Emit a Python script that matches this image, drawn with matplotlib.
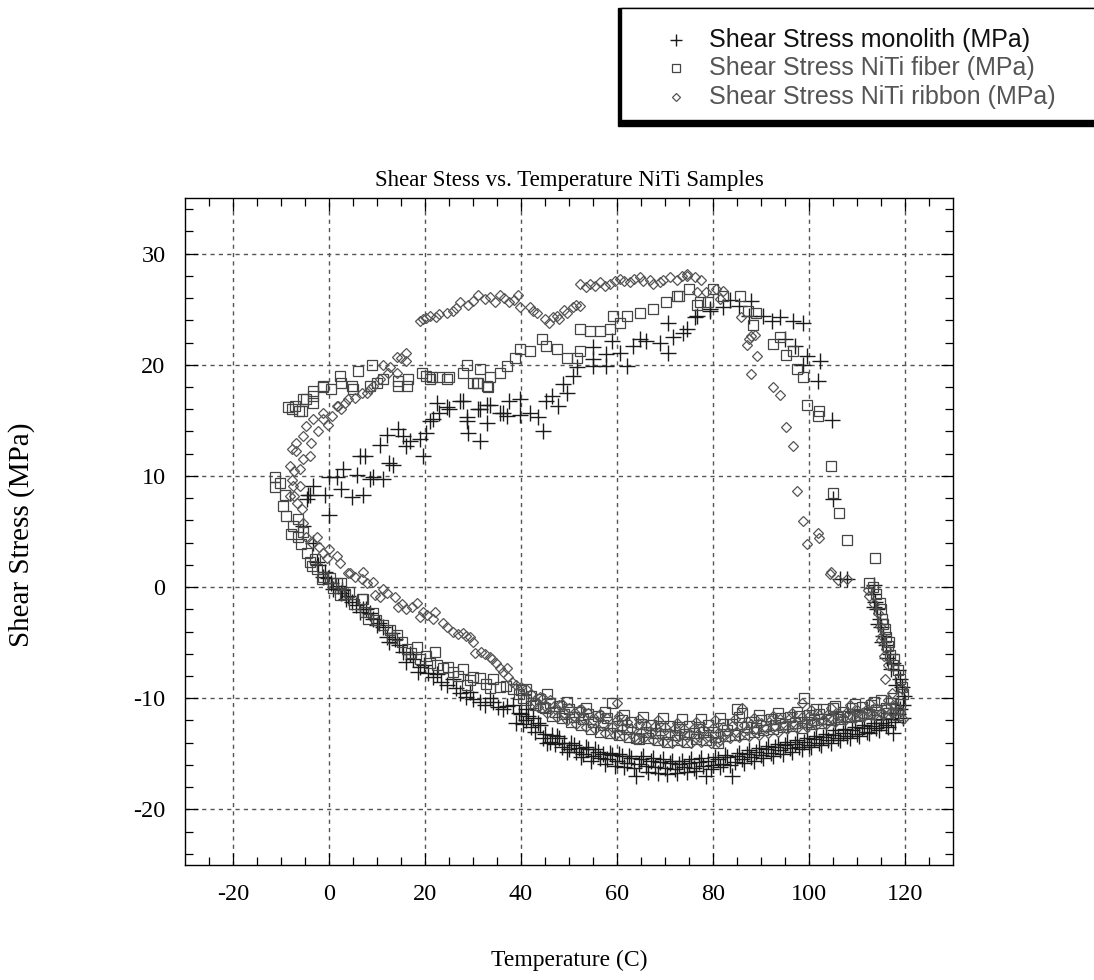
import numpy as np
import matplotlib
matplotlib.use("Agg")
import matplotlib.pyplot as plt
from matplotlib.lines import Line2D
from matplotlib.patches import Rectangle

plt.rcParams["font.family"] = ["Liberation Serif", "DejaVu Serif"]
plt.rcParams["axes.unicode_minus"] = False

# ---- data: (temperature C, shear stress MPa) ----
# monolith, cooling branch on the lower left
mono_low_left = [(-2.6, 2.3), (-2.3, 2.0), (-1.3, 0.9), (-0.9, 1.4), (-0.2, 0.8), (0.4, 0.4),
                 (0.8, -0.2), (1.8, 0.1), (2.6, -0.5), (2.8, -0.3), (3.6, -1.1), (3.9, -0.8),
                 (4.8, -1.3), (5.6, -1.6), (6.4, -2.2), (7.0, -2.0), (7.8, -2.0), (8.5, -2.3),
                 (9.2, -2.9), (9.9, -3.4), (10.5, -3.2), (11.2, -3.6), (12.0, -4.5), (12.6, -4.9),
                 (13.2, -4.1), (13.7, -4.7), (14.5, -5.2), (15.4, -5.8), (16.1, -6.7), (16.8, -6.0),
                 (17.5, -6.5), (18.5, -7.6), (18.9, -7.2), (19.8, -7.0), (20.6, -7.7), (21.7, -8.1),
                 (22.5, -7.8), (23.4, -8.5), (24.5, -8.8), (25.8, -8.3), (26.4, -9.1), (27.2, -9.5),
                 (28.6, -9.9), (29.3, -9.4), (30.0, -10.1), (31.4, -10.3), (32.4, -10.6), (33.5, -10.0),
                 (34.1, -10.3), (35.2, -10.8), (36.2, -11.0), (37.1, -10.7), (38.3, -10.6), (39.0, -12.2),
                 (39.6, -11.3), (41.1, -11.0)]
# monolith, bottom band (two rows)
mono_bottom = [(40.0, -11.4), (41.0, -12.0), (42.0, -12.6), (42.5, -11.8), (43.0, -13.0), (44.0, -12.4),
               (44.5, -13.6), (45.0, -13.2), (46.0, -13.9), (46.5, -13.3), (47.0, -14.1), (48.0, -13.6),
               (48.5, -14.4), (49.0, -14.0), (50.0, -14.6), (51.0, -14.2), (51.5, -14.8), (52.0, -14.5),
               (53.0, -15.0), (54.0, -14.6), (55.0, -15.2), (56.0, -14.8), (56.5, -15.4), (57.0, -15.0),
               (58.0, -15.5), (59.0, -15.1), (60.0, -15.6), (61.0, -15.2), (62.0, -15.8), (63.0, -15.4),
               (64.0, -17.0), (64.5, -15.9), (65.0, -15.5), (66.0, -16.1), (67.0, -15.6), (68.0, -16.2),
               (69.0, -15.7), (70.0, -16.3), (71.0, -15.8), (72.0, -16.4), (73.0, -15.9), (74.0, -16.2),
               (75.0, -15.8), (76.0, -16.3), (77.0, -15.7), (78.0, -16.1), (78.5, -17.0), (79.0, -15.6),
               (80.0, -16.0), (81.0, -15.5), (82.0, -15.9), (83.0, -15.3), (84.0, -17.0), (84.5, -15.7),
               (85.0, -15.2), (86.0, -15.5), (87.0, -15.0), (88.0, -15.3), (89.0, -14.8), (90.0, -15.1),
               (91.0, -14.6), (92.0, -14.9), (93.0, -14.4), (94.0, -14.7), (95.0, -14.2), (96.0, -14.5),
               (97.0, -14.1), (98.0, -14.4), (99.0, -13.9), (100.0, -14.2), (101.0, -13.7), (102.0, -14.0),
               (103.0, -13.5), (104.0, -13.8), (105.0, -13.3), (106.0, -13.6), (107.0, -13.1), (108.0, -13.4),
               (109.0, -12.9), (110.0, -13.2), (111.0, -12.7), (112.0, -13.0), (113.0, -12.5), (114.0, -12.7),
               (115.0, -12.2), (116.0, -12.4), (117.0, -11.9), (117.5, -13.1), (118.0, -12.1), (118.5, -11.4),
               (119.0, -11.0), (119.5, -10.6), (119.5, -11.8)]
mono_bottom_2 = [(40.5, -12.3), (41.5, -11.6), (43.5, -12.2), (45.5, -14.0), (47.5, -13.4), (49.5, -14.8),
                 (50.5, -14.0), (52.5, -15.3), (53.5, -14.4), (54.5, -15.6), (55.5, -14.6), (57.5, -15.9),
                 (58.5, -14.9), (59.5, -16.1), (60.5, -15.0), (61.5, -16.2), (62.5, -15.2), (63.5, -16.3),
                 (65.5, -15.2), (66.5, -16.6), (67.5, -15.4), (68.5, -16.7), (69.5, -15.5), (70.5, -16.8),
                 (71.5, -15.6), (72.5, -16.7), (73.5, -15.6), (74.5, -16.6), (75.5, -15.5), (76.5, -16.5),
                 (77.5, -15.4), (79.5, -16.4), (80.5, -15.3), (81.5, -16.2), (82.5, -15.1), (83.5, -16.0),
                 (85.5, -14.9), (86.5, -15.8), (87.5, -14.7), (88.5, -15.6), (89.5, -14.5), (90.5, -15.4),
                 (91.5, -14.3), (92.5, -15.2), (93.5, -14.1), (94.5, -15.0), (95.5, -13.9), (96.5, -14.8),
                 (97.5, -13.8), (98.5, -14.6), (99.5, -13.6), (100.5, -14.4), (101.5, -13.4), (102.5, -14.2),
                 (103.5, -13.2), (104.5, -14.0), (105.5, -12.9), (106.5, -13.8), (107.5, -12.8), (108.5, -13.6),
                 (109.5, -12.6), (110.5, -13.4), (111.5, -12.4), (112.5, -13.1), (113.5, -12.2), (114.5, -12.9),
                 (115.5, -11.9), (116.5, -12.6), (117.0, -11.3), (118.0, -10.9)]
# monolith, right side and top right
mono_right = [(119.8, -9.8), (119.3, -9.0), (119.0, -8.3), (118.5, -7.5), (117.5, -6.8), (116.8, -6.0),
              (116.0, -5.2), (115.5, -4.4), (115.0, -3.6), (114.7, -2.9), (114.2, -2.0), (113.8, -1.3),
              (113.3, -0.6), (113.5, 0.2), (118.2, -8.8), (117.0, -7.4), (116.3, -6.4), (115.2, -4.9),
              (114.4, -3.3), (113.6, -1.8), (108.0, 0.7), (106.4, 0.7), (105.0, 7.9), (104.7, 15.0),
              (101.8, 18.5), (102.2, 20.3), (99.5, 20.8), (98.7, 20.0), (97.0, 21.7), (95.0, 22.3),
              (96.6, 23.9), (98.7, 23.8), (93.9, 24.3), (92.2, 23.9), (90.5, 24.4), (88.0, 25.7),
              (87.5, 24.4), (85.5, 25.3), (83.5, 25.8), (82.0, 25.2), (79.3, 24.8), (76.2, 24.3),
              (73.7, 22.9)]
# monolith, heating branches on the upper left
mono_upper = [(0.1, 6.5), (-4.0, 8.3), (-0.9, 8.3), (0.1, 9.9), (1.6, 9.9), (2.6, 8.8), (2.9, 10.6),
              (4.7, 8.1), (5.8, 10.1), (7.0, 8.3), (8.5, 9.7), (9.1, 9.9), (11.2, 9.7), (6.4, 11.8),
              (7.4, 11.8), (10.6, 12.8), (12.6, 11.2), (12.0, 13.7), (14.3, 14.2), (15.4, 13.6),
              (16.8, 13.1), (16.1, 12.7), (18.9, 13.3), (19.5, 11.8), (13.3, 11.0), (-3.3, 9.1),
              (-4.6, 7.9), (-3.3, 4.0), (-5.4, 5.5), (-4.4, 8.3), (20.3, 13.9), (21.6, 15.1),
              (23.0, 15.7), (24.5, 16.2), (27.2, 16.7), (28.7, 15.3), (28.9, 13.9), (31.4, 13.1),
              (31.0, 16.0), (33.0, 16.4), (33.0, 14.8), (35.6, 15.7), (37.0, 15.4), (37.6, 16.7),
              (39.7, 16.9), (44.6, 14.0), (22.4, 16.6), (25.1, 16.0), (27.9, 16.7), (31.4, 16.0),
              (33.5, 16.4), (36.2, 15.7), (21.0, 14.9), (28.7, 14.9), (39.7, 15.5), (41.8, 15.7),
              (43.5, 15.3), (45.3, 16.7), (46.5, 17.2), (47.8, 16.3), (48.8, 18.3), (49.6, 17.5),
              (50.8, 19.0), (51.6, 19.8), (55.0, 20.5), (57.8, 21.0), (60.6, 21.1), (63.3, 21.7),
              (66.1, 22.1), (69.0, 22.0), (71.6, 22.5), (74.5, 23.2), (76.6, 24.4), (79.3, 25.0),
              (55.0, 21.6), (59.0, 22.1), (70.6, 23.8), (70.6, 21.1), (62.0, 19.9), (57.8, 19.9),
              (55.0, 19.9), (64.7, 22.3)]

# NiTi fiber
fiber_left = [(-11.3, 9.9), (-11.3, 9.0), (-10.3, 9.4), (-9.2, 8.3), (-9.6, 7.3), (-8.9, 6.4),
              (-7.5, 5.5), (-6.5, 6.1), (-6.5, 4.5), (-5.9, 3.9), (-5.5, 5.0), (-4.6, 3.1), (-4.0, 2.3),
              (-3.0, 2.5), (-2.5, 1.6), (-1.3, 0.9), (-1.5, 0.7), (0.2, 0.8), (1.6, 0.4), (2.6, 0.4),
              (2.2, -0.7), (4.2, -0.4), (6.8, -1.1), (7.1, -1.1), (7.4, -2.2), (8.1, -2.9), (9.1, -2.3),
              (11.2, -3.4), (12.8, -3.9), (14.1, -4.3), (15.2, -4.9), (16.2, -5.6), (18.3, -5.4),
              (18.9, -6.5), (20.2, -6.2), (22.0, -5.8), (22.4, -7.0), (23.7, -7.3), (25.8, -7.6),
              (26.8, -8.0), (27.9, -7.4), (28.7, -8.8), (30.0, -8.1), (31.4, -8.2), (32.8, -8.7),
              (34.1, -8.3), (35.6, -9.0), (36.8, -8.9), (38.3, -9.2), (39.5, -9.6), (41.0, -9.2),
              (-8.0, 4.8), (-3.6, 1.9), (0.9, -0.1), (3.4, -0.6), (5.3, -1.5), (9.8, -3.0),
              (13.2, -4.6), (17.1, -5.9), (21.0, -6.8), (24.8, -7.2), (29.3, -8.4), (33.5, -9.1)]
fiber_bottom = [(40.0, -9.3), (41.0, -10.2), (42.0, -9.8), (43.0, -10.6), (44.0, -10.1), (45.0, -10.9),
                (46.0, -10.4), (47.0, -11.2), (48.0, -10.7), (49.0, -11.4), (50.0, -11.0), (51.0, -11.7),
                (52.0, -11.2), (53.0, -11.9), (54.0, -11.4), (55.0, -12.1), (56.0, -11.6), (57.0, -12.4),
                (58.0, -11.8), (59.0, -10.4), (60.0, -12.5), (61.0, -12.0), (62.0, -12.8), (63.0, -12.1),
                (64.0, -13.6), (65.0, -12.3), (66.0, -13.0), (67.0, -12.4), (68.0, -13.1), (69.0, -12.5),
                (70.0, -13.2), (71.0, -12.5), (72.0, -13.3), (73.0, -12.6), (74.0, -13.2), (75.0, -12.5),
                (76.0, -13.1), (77.0, -12.6), (78.0, -13.0), (79.0, -12.4), (80.0, -13.0), (81.0, -14.0),
                (82.0, -12.3), (83.0, -12.9), (84.0, -12.3), (85.0, -11.0), (86.0, -11.3), (87.0, -12.6),
                (88.0, -12.1), (89.0, -12.7), (90.0, -12.0), (91.0, -12.5), (92.0, -11.9), (93.0, -12.4),
                (94.0, -11.8), (95.0, -12.3), (96.0, -11.7), (97.0, -12.2), (98.0, -11.6), (99.0, -10.0),
                (99.5, -12.1), (100.0, -11.5), (101.0, -12.0), (102.0, -11.4), (103.0, -11.0), (104.0, -11.9),
                (105.0, -10.9), (106.0, -11.7), (107.0, -11.2), (108.0, -11.6), (109.0, -10.9), (110.0, -11.5),
                (111.0, -10.8), (112.0, -11.3), (113.0, -10.6), (114.0, -11.1), (115.0, -10.2), (116.0, -10.9),
                (117.0, -10.4), (118.0, -11.0), (119.0, -10.5), (119.5, -9.6)]
fiber_bottom_2 = [(40.5, -10.0), (42.5, -10.4), (44.5, -10.8), (46.5, -11.6), (48.5, -11.8), (50.5, -12.1),
                  (52.5, -12.4), (54.5, -12.8), (56.5, -13.0), (58.5, -13.1), (60.5, -13.3), (62.5, -13.5),
                  (64.5, -13.7), (66.5, -13.6), (68.5, -13.8), (70.5, -13.9), (72.5, -13.8), (74.5, -13.9),
                  (76.5, -13.7), (78.5, -13.8), (80.5, -13.5), (82.5, -13.4), (84.5, -13.3), (86.5, -13.2),
                  (88.5, -13.0), (90.5, -12.9), (92.5, -12.8), (94.5, -12.6), (96.5, -12.5), (98.5, -12.7),
                  (100.5, -12.3), (102.5, -12.2), (104.5, -12.0), (106.5, -11.9), (108.5, -11.7), (110.5, -11.6),
                  (112.5, -11.4), (114.5, -11.5), (116.5, -11.3), (118.5, -11.5), (45.5, -9.6), (49.5, -10.3),
                  (53.5, -10.9), (57.5, -11.2), (61.5, -11.5), (65.5, -11.7), (69.5, -11.8), (73.5, -11.9),
                  (77.5, -11.9), (81.5, -11.8), (85.5, -11.7), (89.5, -11.5), (93.5, -11.3), (97.5, -11.2),
                  (101.5, -11.0), (105.5, -10.7), (109.5, -10.5), (113.5, -10.3), (117.5, -10.0)]
fiber_right = [(119.0, -8.3), (118.5, -7.5), (117.5, -7.0), (116.8, -6.1), (116.5, -5.3), (116.1, -4.5),
               (115.8, -3.8), (115.3, -2.9), (115.0, -2.0), (114.7, -1.4), (114.0, -0.6), (113.3, 0.0),
               (112.5, 0.4), (113.7, 2.6), (119.4, -9.0), (117.8, -6.5), (116.6, -4.9), (115.5, -3.3),
               (108.0, 4.2), (106.2, 6.7), (104.9, 8.5), (104.5, 10.9),
               (101.8, 15.4), (102.0, 15.8), (99.5, 16.4), (98.7, 18.9), (97.4, 19.6), (95.3, 20.9),
               (96.7, 21.2), (92.6, 21.9), (94.0, 22.5), (88.4, 23.6), (87.3, 24.8), (89.0, 24.7),
               (85.6, 26.2), (82.0, 26.2), (80.0, 26.8), (79.0, 25.6), (76.6, 25.4), (73.0, 26.2)]
fiber_upper = [(72.4, 26.2), (75.1, 26.8), (77.2, 25.6), (70.3, 25.6), (67.5, 25.0), (64.7, 24.7),
               (62.0, 24.4), (60.6, 23.8), (59.1, 24.4), (58.5, 23.2), (56.4, 23.0), (54.4, 23.0),
               (52.2, 23.2), (52.2, 21.2), (51.6, 20.6), (49.5, 20.6), (47.4, 21.4), (45.3, 21.7),
               (44.3, 22.3), (41.8, 21.2), (39.7, 21.4), (38.7, 20.6), (37.0, 19.9), (35.6, 19.3),
               (33.5, 18.9), (33.1, 18.0), (31.0, 18.4), (30.0, 18.4), (31.4, 19.6), (28.7, 20.0),
               (27.9, 19.3), (25.1, 18.9), (23.0, 18.9), (20.3, 19.0), (21.4, 18.9), (19.3, 19.3),
               (16.4, 18.7), (14.4, 18.5), (11.2, 18.7), (8.9, 20.0), (6.0, 19.4), (4.7, 18.1),
               (2.2, 19.0), (-1.3, 18.0), (-3.4, 17.6), (-4.7, 16.9), (-7.8, 16.0), (-7.1, 16.3),
               (-5.5, 16.9), (-5.7, 15.8), (-3.4, 17.2), (-3.4, 16.6), (-1.3, 18.1), (0.5, 17.8),
               (2.6, 18.4), (4.9, 17.8), (8.5, 18.1), (9.9, 18.4), (14.4, 18.1), (16.2, 18.1),
               (21.0, 18.7), (24.5, 18.7), (30.8, 18.4), (33.0, 18.1), (-8.5, 16.2), (-6.3, 15.8)]

# NiTi ribbon
ribbon_left = [(16.1, 21.1), (16.1, 20.3), (15.0, 20.6), (14.1, 20.7), (14.1, 19.3), (12.8, 19.8),
               (12.3, 19.3), (11.2, 20.0), (10.6, 18.7), (9.1, 18.1), (8.5, 17.8), (7.9, 17.5),
               (6.8, 17.5), (5.5, 17.0), (3.9, 16.9), (3.3, 16.6), (2.5, 16.0), (1.9, 16.3), (1.6, 16.3),
               (0.6, 15.4), (-0.3, 14.6), (-1.3, 15.1), (-1.3, 15.7), (-2.2, 14.0), (-3.4, 15.1),
               (-3.8, 13.0), (-4.7, 14.5), (-5.4, 13.6), (-6.8, 13.0), (-7.8, 12.4), (-6.8, 12.2),
               (-5.4, 11.5), (-4.0, 11.8), (-6.0, 10.6), (-8.2, 10.9), (-7.2, 10.4), (-7.8, 9.6),
               (-7.5, 9.1), (-6.1, 9.1), (-8.2, 8.2), (-7.2, 8.2), (-6.6, 7.6), (-5.7, 7.0), (-5.4, 5.8),
               (-4.7, 4.5), (-3.5, 4.0), (-2.6, 4.5), (-2.0, 3.6), (-1.3, 3.1), (-0.5, 2.6), (0.1, 3.4),
               (1.6, 2.8), (2.2, 2.2), (3.9, 1.3), (4.3, 1.3), (5.5, 0.9), (7.1, 1.4), (6.8, 0.7),
               (8.0, 0.4), (9.1, 0.5), (9.5, -0.7), (10.6, -0.9), (11.2, -0.2), (12.0, -0.5),
               (13.7, -0.9), (14.4, -1.8), (15.2, -1.5), (16.1, -2.0), (17.2, -1.8), (18.3, -1.4),
               (19.6, -2.2), (19.0, -2.7), (20.5, -2.5), (22.0, -2.2), (21.7, -2.9), (23.8, -3.2),
               (24.5, -3.6), (25.8, -4.0), (26.8, -4.2), (27.9, -4.1), (28.6, -4.4), (29.3, -4.5),
               (30.0, -4.9), (30.4, -5.9), (31.7, -5.8), (32.5, -6.0), (33.5, -6.3), (33.9, -6.5),
               (34.7, -6.8), (35.6, -7.3), (36.3, -7.6), (37.0, -7.3), (37.3, -8.1), (38.2, -8.5),
               (39.0, -8.8), (40.0, -9.0), (41.1, -9.2)]
ribbon_bottom = [(42.0, -9.6), (43.0, -10.3), (44.0, -9.9), (45.0, -10.7), (46.0, -10.2), (47.0, -11.0),
                 (48.0, -10.6), (49.0, -11.3), (50.0, -10.9), (51.0, -11.6), (52.0, -11.1), (53.0, -11.8),
                 (54.0, -11.3), (55.0, -12.0), (56.0, -11.6), (57.0, -12.3), (58.0, -11.8), (59.0, -12.6),
                 (60.0, -10.4), (60.0, -12.0), (61.0, -12.7), (62.0, -12.1), (63.0, -12.8), (64.0, -13.7),
                 (64.5, -12.3), (65.0, -13.0), (66.0, -12.4), (67.0, -13.1), (68.0, -12.5), (69.0, -13.2),
                 (70.0, -12.6), (71.0, -13.3), (72.0, -12.7), (73.0, -13.4), (74.0, -12.8), (75.0, -13.3),
                 (76.0, -12.7), (77.0, -13.5), (78.0, -12.8), (79.0, -13.4), (80.0, -12.7), (81.0, -13.9),
                 (81.5, -13.2), (82.0, -12.6), (83.0, -13.1), (84.0, -12.5), (85.0, -13.0), (86.0, -10.9),
                 (86.5, -12.4), (87.0, -12.9), (88.0, -12.3), (89.0, -12.8), (90.0, -12.2), (91.0, -12.7),
                 (92.0, -12.0), (93.0, -12.5), (94.0, -11.9), (95.0, -12.4), (96.0, -11.8), (97.0, -12.3),
                 (98.5, -10.4), (98.5, -11.7), (99.0, -12.2), (100.0, -11.6), (101.0, -12.1), (102.0, -11.5),
                 (103.0, -12.0), (104.0, -11.4), (105.0, -11.9), (106.0, -11.3), (107.0, -11.8), (108.0, -11.2),
                 (109.0, -11.7), (110.0, -11.1), (111.0, -11.6), (112.0, -11.0), (113.0, -11.5), (114.0, -10.9),
                 (115.0, -11.3), (116.0, -10.8), (117.0, -11.2), (118.0, -10.6), (119.0, -11.1), (119.5, -11.9),
                 (119.3, -9.2)]
ribbon_bottom_2 = [(43.5, -10.8), (45.5, -11.3), (47.5, -11.7), (49.5, -12.0), (51.5, -12.3), (53.5, -12.6),
                   (55.5, -12.8), (57.5, -13.1), (59.5, -13.3), (61.5, -13.4), (63.5, -13.5), (65.5, -13.6),
                   (67.5, -13.8), (69.5, -13.9), (71.5, -14.0), (73.5, -13.9), (75.5, -14.0), (77.5, -13.9),
                   (79.5, -14.0), (81.5, -13.8), (83.5, -13.6), (85.5, -13.5), (87.5, -13.4), (89.5, -13.3),
                   (91.5, -13.1), (93.5, -13.0), (95.5, -12.8), (97.5, -12.7), (99.5, -12.6), (101.5, -12.4),
                   (103.5, -12.3), (105.5, -12.1), (107.5, -12.0), (109.5, -11.8), (111.5, -11.6), (113.5, -11.5),
                   (115.5, -11.4), (117.5, -11.3), (44.5, -10.0), (48.5, -10.5), (52.5, -11.0), (56.5, -11.4),
                   (60.5, -11.6), (64.5, -11.9), (68.5, -12.0), (72.5, -12.2), (76.5, -12.1), (80.5, -12.0),
                   (84.5, -11.9), (88.5, -11.8), (92.5, -11.6), (96.5, -11.3), (100.5, -11.1), (104.5, -10.9),
                   (108.5, -10.6), (112.5, -10.4), (116.5, -10.2)]
ribbon_right = [(115.8, -8.3), (116.5, -7.0), (116.1, -5.6), (115.3, -4.4), (114.7, -3.5), (114.3, -2.3),
                (113.5, -1.5), (112.6, -0.8), (112.3, -0.3), (117.2, -9.5), (115.6, -6.2), (114.9, -4.8),
                (108.0, 0.7), (106.0, 0.6), (104.3, 1.2),
                (104.6, 1.4), (102.1, 4.4), (101.8, 4.9), (99.5, 3.9), (98.7, 5.9), (97.4, 8.6),
                (96.6, 12.7), (95.2, 14.4), (93.9, 17.3), (92.4, 18.0), (88.0, 19.2), (89.1, 20.8),
                (87.0, 21.8), (87.6, 22.3), (88.0, 22.6), (88.7, 22.7), (85.9, 24.3), (81.4, 25.9),
                (82.1, 26.6), (76.6, 26.5), (76.2, 27.9), (74.5, 28.0)]
ribbon_upper = [(80.7, 26.8), (78.6, 26.5), (77.5, 27.6), (74.5, 28.2), (73.5, 28.0), (72.5, 27.6),
                (71.0, 27.9), (69.5, 27.6), (68.9, 27.4), (67.5, 27.3), (66.8, 27.6), (65.5, 27.5),
                (64.7, 27.9), (63.5, 27.7), (62.7, 27.4), (61.5, 27.5), (60.6, 27.7), (59.5, 27.5),
                (58.5, 27.3), (57.5, 27.1), (56.4, 27.4), (55.5, 27.1), (54.4, 27.3), (53.5, 27.0),
                (52.2, 27.3), (52.2, 25.3), (51.5, 25.4), (50.8, 25.2), (49.6, 24.7), (49.0, 24.9),
                (48.0, 24.1), (47.5, 24.4), (46.7, 24.3), (45.8, 23.8), (44.9, 24.1), (43.3, 24.7),
                (42.5, 24.8), (41.8, 25.2), (39.8, 25.2), (39.4, 26.3), (38.5, 25.8), (37.6, 25.6),
                (36.5, 26.0), (35.6, 26.3), (34.5, 25.6), (33.5, 26.1), (32.5, 25.9), (31.0, 26.3),
                (30.0, 25.7), (28.9, 25.4), (27.2, 25.6), (26.5, 25.1), (25.8, 24.8), (24.5, 24.7),
                (23.0, 24.6), (22.2, 24.3), (21.0, 24.4), (20.2, 24.2), (19.6, 24.1), (18.9, 23.9)]

monolith = np.array(mono_low_left + mono_bottom + mono_bottom_2 + mono_right + mono_upper)
fiber = np.array(fiber_left + fiber_bottom + fiber_bottom_2 + fiber_right + fiber_upper)
ribbon = np.array(ribbon_left + ribbon_bottom + ribbon_bottom_2 + ribbon_right + ribbon_upper)

labels = ["Shear Stress monolith (MPa)", "Shear Stress NiTi fiber (MPa)",
          "Shear Stress NiTi ribbon (MPa)"]

W, H = 1094, 980
fig = plt.figure(figsize=(W / 100, H / 100), dpi=100)
ax = fig.add_axes([185 / W, 1 - 865 / H, 768 / W, 667 / H])

styles = [
    dict(marker="+", markersize=11, markeredgewidth=1.0, color="#1a1a1a"),
    dict(marker="s", markersize=7.5, markeredgewidth=0.9, color="#444444", markerfacecolor="none"),
    dict(marker="D", markersize=5.0, markeredgewidth=0.9, color="#555555", markerfacecolor="none"),
]
for data, st in zip([monolith, fiber, ribbon], styles):
    ax.plot(data[:, 0], data[:, 1], linestyle="none", **st)

ax.set_xlim(-30, 130)
ax.set_ylim(-25, 35)
ax.set_xticks(np.arange(-20, 121, 20))
ax.set_yticks(np.arange(-20, 31, 10))
ax.set_xticks(np.arange(-25, 130, 5), minor=True)
ax.set_yticks(np.arange(-24, 35, 2), minor=True)
ax.tick_params(which="both", direction="in", top=True, right=True, width=0.9, labelsize=17.5)
ax.tick_params(which="major", length=9, pad=14)
ax.tick_params(which="minor", length=5.5)
ax.grid(True, which="major", linestyle=(0, (3, 3)), color="#555555", linewidth=1)
for sp in ax.spines.values():
    sp.set_linewidth(1.0)

ax.set_title("Shear Stess vs. Temperature NiTi Samples", fontsize=16.5, pad=9)
ax.set_xlabel("Temperature (C)", fontsize=17)
ax.set_ylabel("Shear Stress (MPa)", fontsize=21)
ax.xaxis.set_label_coords(0.5, (865 - 960) / 667)
ax.yaxis.set_label_coords((22 - 185) / 768, (865 - 535) / 667)
ax.xaxis.label.set_va("center")
ax.yaxis.label.set_va("center")


def fx(px):
    return px / W


def fy(py):
    return 1 - py / H


# legend box with a dark shadow, cut off by the right edge
fig.add_artist(Rectangle((fx(618), fy(126)), fx(600), 118 / H, transform=fig.transFigure,
                         facecolor="black", edgecolor="black"))
fig.add_artist(Rectangle((fx(621), fy(120)), fx(600), 112 / H, transform=fig.transFigure,
                         facecolor="white", edgecolor="black", linewidth=1))
rows_y = [40, 68, 97]
text_colors = ["#111111", "#555555", "#555555"]
legend_styles = [dict(st, markersize=st["markersize"] * 0.85) for st in styles]
for lab, st, ry, tc in zip(labels, legend_styles, rows_y, text_colors):
    fig.add_artist(Line2D([fx(676)], [fy(ry)], linestyle="none", transform=fig.transFigure, **st))
    fig.text(fx(709), fy(ry), lab, ha="left", va="center", fontsize=18, color=tc,
             family=["Liberation Sans", "DejaVu Sans"])

fig.savefig("out.png", dpi=100)
